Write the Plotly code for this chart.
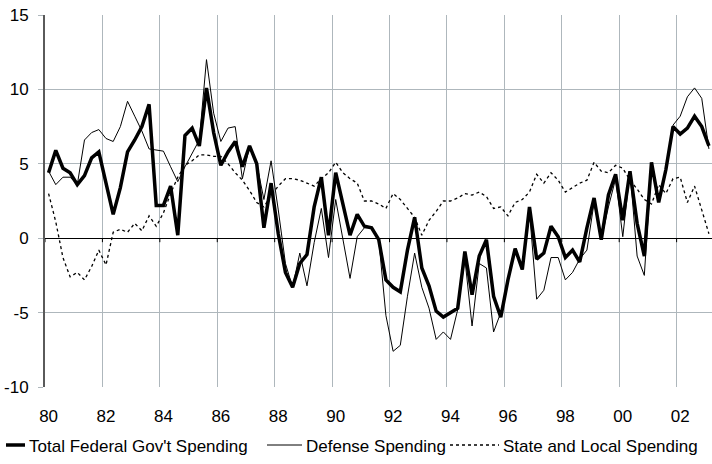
import plotly.graph_objects as go

start_year = 1980
n_quarters = 93
grid_years = list(range(1980, 2003, 2))
tick_labels = ["80", "82", "84", "86", "88", "90", "92", "94", "96", "98", "00", "02"]
y_ticks = [-10, -5, 0, 5, 10, 15]
y_tick_labels = ["-10", "-5", "0", "5", "10", "15"]

total_federal = [
    4.4, 5.9, 4.7, 4.4, 3.6, 4.2, 5.4, 5.8, 3.7, 1.6, 3.4, 5.8, 6.6, 7.5, 9.0, 2.2,
    2.2, 3.5, 0.2, 6.9, 7.4, 6.2, 10.1, 7.1, 4.9, 5.8, 6.5, 4.8, 6.2, 5.0, 0.7, 3.7,
    0.3, -2.3, -3.3, -1.7, -1.1, 2.1, 4.1, 0.2, 4.4, 2.4, 0.2, 1.6, 0.8, 0.7, -0.1, -2.8,
    -3.3, -3.6, -0.8, 1.4, -2.0, -3.2, -4.9, -5.3, -5.0, -4.7, -0.9, -3.8, -1.2, -0.1, -3.9, -5.3,
    -2.8, -0.7, -2.1, 2.1, -1.4, -1.0, 0.8, 0.1, -1.3, -0.8, -1.6, 0.7, 2.7, -0.1, 2.9, 4.3,
    1.2, 4.5, 1.0, -1.2, 5.1, 2.4, 4.6, 7.5, 7.0, 7.4, 8.2, 7.5, 6.2,
]
defense = [
    4.5, 3.6, 4.1, 4.1, 3.6, 6.6, 7.1, 7.3, 6.7, 6.5, 7.5, 9.2, 8.2, 7.2, 6.0, 5.9,
    5.85, 4.8, 3.8, 4.8, 5.7, 6.6, 12.0, 8.4, 6.5, 7.4, 7.5, 4.0, 6.2, 5.0, 2.6, 5.2,
    1.9, -1.7, -3.3, -1.0, -3.2, -0.3, 2.0, -1.3, 2.6, -0.1, -2.7, 0.1, 0.7, 0.7, -0.1, -5.2,
    -7.6, -7.2, -3.9, -1.0, -3.3, -4.7, -6.8, -6.3, -6.8, -4.8, -1.4, -5.9, -1.7, -2.0, -6.3, -5.0,
    -2.8, -0.7, -2.1, 1.8, -4.1, -3.5, -1.3, -1.3, -2.8, -2.3, -1.4, -0.8, 2.4, -0.1, 2.1, 4.0,
    0.1, 4.5, -1.2, -2.5, 4.9, 2.6, 4.4, 7.6, 8.2, 9.5, 10.1, 9.4, 6.0,
]
state_local = [
    3.0, 1.1, -1.3, -2.6, -2.3, -2.8, -1.9, -0.8, -1.8, 0.4, 0.6, 0.4, 1.0, 0.5, 1.5, 0.8,
    1.7, 3.0, 4.1, 4.9, 5.2, 5.6, 5.6, 5.5, 5.5, 5.0, 4.4, 3.9, 3.2, 2.4, 2.1, 2.9,
    3.5, 4.0, 4.0, 3.9, 3.7, 3.5, 4.0, 4.4, 5.1, 4.4, 4.0, 3.7, 2.5, 2.5, 2.3, 2.0,
    3.0, 2.6, 2.0, 1.4, 0.2, 1.2, 1.8, 2.5, 2.5, 2.7, 3.0, 2.9, 3.1, 2.8, 2.0, 2.1,
    1.5, 2.4, 2.6, 3.1, 4.3, 3.7, 4.4, 3.9, 3.1, 3.4, 3.7, 3.9, 5.1, 4.5, 4.4, 4.9,
    4.7, 3.9, 3.3, 2.6, 2.3, 3.6, 3.0, 4.0, 4.1, 2.4, 3.5, 1.9, 0.3,
]
series_names = ["Total Federal Gov't Spending", "Defense Spending", "State and Local Spending"]

quarters = [start_year + 0.125 + 0.25 * i for i in range(n_quarters)]
label_positions = [y + 0.125 for y in grid_years]

FONT = "Liberation Sans, Arial, sans-serif"
FS = 17
GRID = "#aeb7bc"

# figure geometry (pixels)
W, H = 712, 464
ML, MR, MT, MB = 45, 0, 15, 77
PW, PH = W - ML - MR, H - MT - MB
px_per_year = 28.71
x_range = [1980, 1980 + PW / px_per_year]


def px(xp):
    return (xp - ML) / PW


def py(yp):
    return (H - MB - yp) / PH


styles = [dict(color="#000000", width=3.5),
          dict(color="#000000", width=1),
          dict(color="#000000", width=1.3, dash="dot")]

fig = go.Figure()
for name, vals, st in zip(series_names, [total_federal, defense, state_local], styles):
    fig.add_trace(go.Scatter(x=quarters, y=vals, mode="lines", name=name, line=st,
                             showlegend=False, hoverinfo="skip"))

shapes = []
# small tick marks on the zero (category) axis
for yr in grid_years:
    shapes.append(dict(type="line", xref="x", yref="y", x0=yr, x1=yr,
                       ysizemode="pixel", yanchor=0, y0=0, y1=-4,
                       line=dict(color="#000000", width=1)))
# zero line tick extending left of value axis
shapes.append(dict(type="line", xref="x", yref="y", xsizemode="pixel", xanchor=1980,
                   x0=-5, x1=0, y0=0, y1=0, line=dict(color="#000000", width=1.2)))

# manual legend
legend_items = [
    (6, 25, 28, series_names[0], styles[0]),
    (267, 302, 305, series_names[1], styles[1]),
    (450, 499, 502, series_names[2], styles[2]),
]
annotations = []
for x0, x1, xt, name, st in legend_items:
    shapes.append(dict(type="line", xref="paper", yref="paper",
                       x0=px(x0), x1=px(x1), y0=py(445), y1=py(445), line=st))
    annotations.append(dict(xref="paper", yref="paper", x=px(xt), y=py(446),
                            xanchor="left", yanchor="middle", showarrow=False,
                            text=name, font=dict(family=FONT, size=FS, color="#000000"),
                            borderpad=0))

fig.update_layout(
    width=W, height=H,
    margin=dict(l=ML, r=MR, t=MT, b=MB, pad=0),
    paper_bgcolor="white", plot_bgcolor="white",
    font=dict(family=FONT, size=FS, color="#000000"),
    showlegend=False,
    shapes=shapes, annotations=annotations,
    xaxis=dict(range=x_range, tickvals=label_positions, ticktext=tick_labels,
               showgrid=False, zeroline=False, showline=False, ticks="",
               ticklabelstandoff=17, tickfont=dict(size=FS),
               minor=dict(tickvals=grid_years, showgrid=True, gridcolor=GRID,
                          gridwidth=1.3, ticks="")),
    yaxis=dict(range=[-10, 15], tickvals=y_ticks, ticktext=y_tick_labels,
               showgrid=True, gridcolor=GRID, gridwidth=1.3,
               zeroline=True, zerolinecolor="#000000", zerolinewidth=1.2,
               showline=True, linecolor="#5a5a5a", linewidth=1.8,
               ticks="outside", ticklen=5, tickcolor=GRID, tickwidth=1.3,
               ticklabelstandoff=6, tickfont=dict(size=FS)),
)

fig.write_html("out.html", config={"displayModeBar": False},
               post_script="document.body.style.margin='0px';")
